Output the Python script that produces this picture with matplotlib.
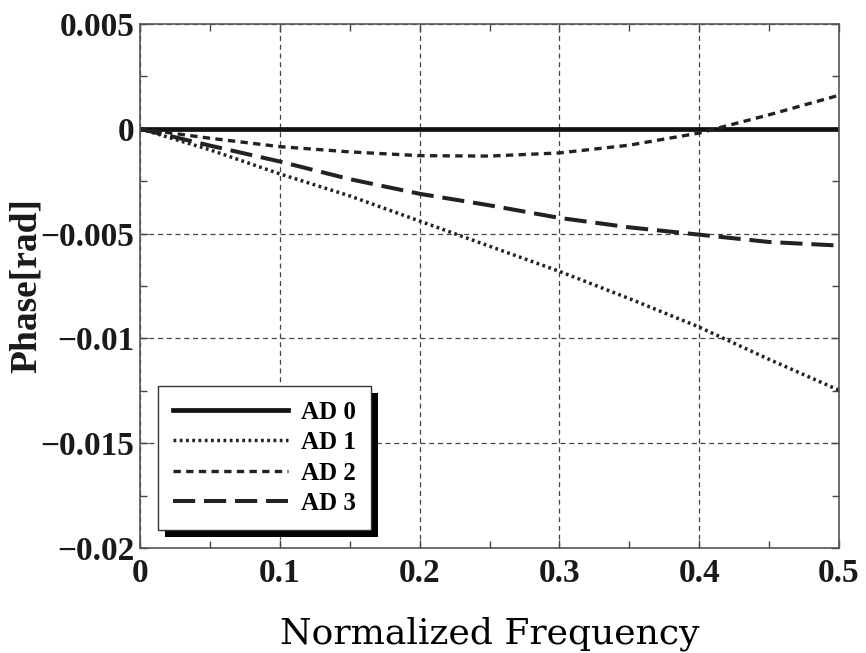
import numpy as np
import matplotlib
matplotlib.use('Agg')
import matplotlib.pyplot as plt
import matplotlib.patheffects as pe
from matplotlib.ticker import MultipleLocator

# Valores (fase em rad)
freq = [0.0, 0.05, 0.1, 0.15, 0.2, 0.25, 0.3, 0.35, 0.4, 0.45, 0.5]
ad0 = [0.0] * 11
ad1 = [0.0, -0.00100, -0.00215, -0.00320, -0.00440, -0.00560, -0.00680, -0.00810, -0.00946, -0.01100, -0.01247]
ad2 = [0.0, -0.00045, -0.00085, -0.00110, -0.00128, -0.00130, -0.00115, -0.00078, -0.00020, 0.00067, 0.00160]
ad3 = [0.0, -0.00080, -0.00156, -0.00240, -0.00310, -0.00365, -0.00425, -0.00470, -0.00505, -0.00540, -0.00557]
labels = ['AD 0', 'AD 1', 'AD 2', 'AD 3']

plt.rcParams['font.family'] = 'Liberation Serif'

fig = plt.figure(figsize=(8.66, 6.53), dpi=100)
ax = fig.add_axes([0.1617, 0.1608, 0.8071, 0.8024])

ax.plot(freq, ad0, color='#111111', lw=3.4, ls='-', label=labels[0])
ax.plot(freq, ad1, color='#222222', lw=2.5, ls=(0, (0.8, 1.0)), label=labels[1])
ax.plot(freq, ad2, color='#222222', lw=2.4, ls=(0, (2.2, 1.6)), label=labels[2])
ax.plot(freq, ad3, color='#222222', lw=2.9, ls=(0, (5.5, 2.2)), label=labels[3])

ax.set_xlim(0, 0.5)
ax.set_ylim(-0.02, 0.005)
ax.xaxis.set_minor_locator(MultipleLocator(0.05))
ax.yaxis.set_minor_locator(MultipleLocator(0.0025))
ax.set_xticks([0, 0.1, 0.2, 0.3, 0.4, 0.5])
ax.set_xticklabels(['0', '0.1', '0.2', '0.3', '0.4', '0.5'])
ax.set_yticks([0.005, 0, -0.005, -0.01, -0.015, -0.02])
ax.set_yticklabels(['0.005', '0', '\u22120.005', '\u22120.01', '\u22120.015', '\u22120.02'])

ax.tick_params(which='both', direction='in', top=True, right=True, color='#444444', width=1)
ax.tick_params(which='major', length=6)
ax.tick_params(which='minor', length=5)
ax.tick_params(axis='x', labelsize=24, pad=7)
ax.tick_params(axis='y', labelsize=24, pad=4)
for t in ax.get_xticklabels() + ax.get_yticklabels():
    t.set_fontweight('bold')
    t.set_color('#1a1a1a')

for s in ax.spines.values():
    s.set_color('#555555')
    s.set_linewidth(1.2)

ax.grid(True, which='major', color='#444444', ls=(0, (4, 3)), lw=0.9)

ax.set_ylabel('Phase[rad]', fontsize=27, fontweight='bold', color='#1a1a1a')
ax.yaxis.set_label_coords(-0.137, 0.5)
ax.set_xlabel('Normalized Frequency', fontsize=26, family='DejaVu Serif', labelpad=20)

leg = ax.legend(loc='lower left', bbox_to_anchor=(0.026, 0.034), borderaxespad=0,
                fancybox=False, edgecolor='#333333', framealpha=1,
                prop={'weight': 'bold', 'size': 18}, handlelength=4.6,
                handletextpad=0.5, labelspacing=0.3, borderpad=0.6)
leg.get_frame().set_linewidth(1.0)
leg.get_frame().set_path_effects([pe.SimplePatchShadow(offset=(5, -5), shadow_rgbFace='k', alpha=1), pe.Normal()])

plt.savefig('out.png', dpi=100)
